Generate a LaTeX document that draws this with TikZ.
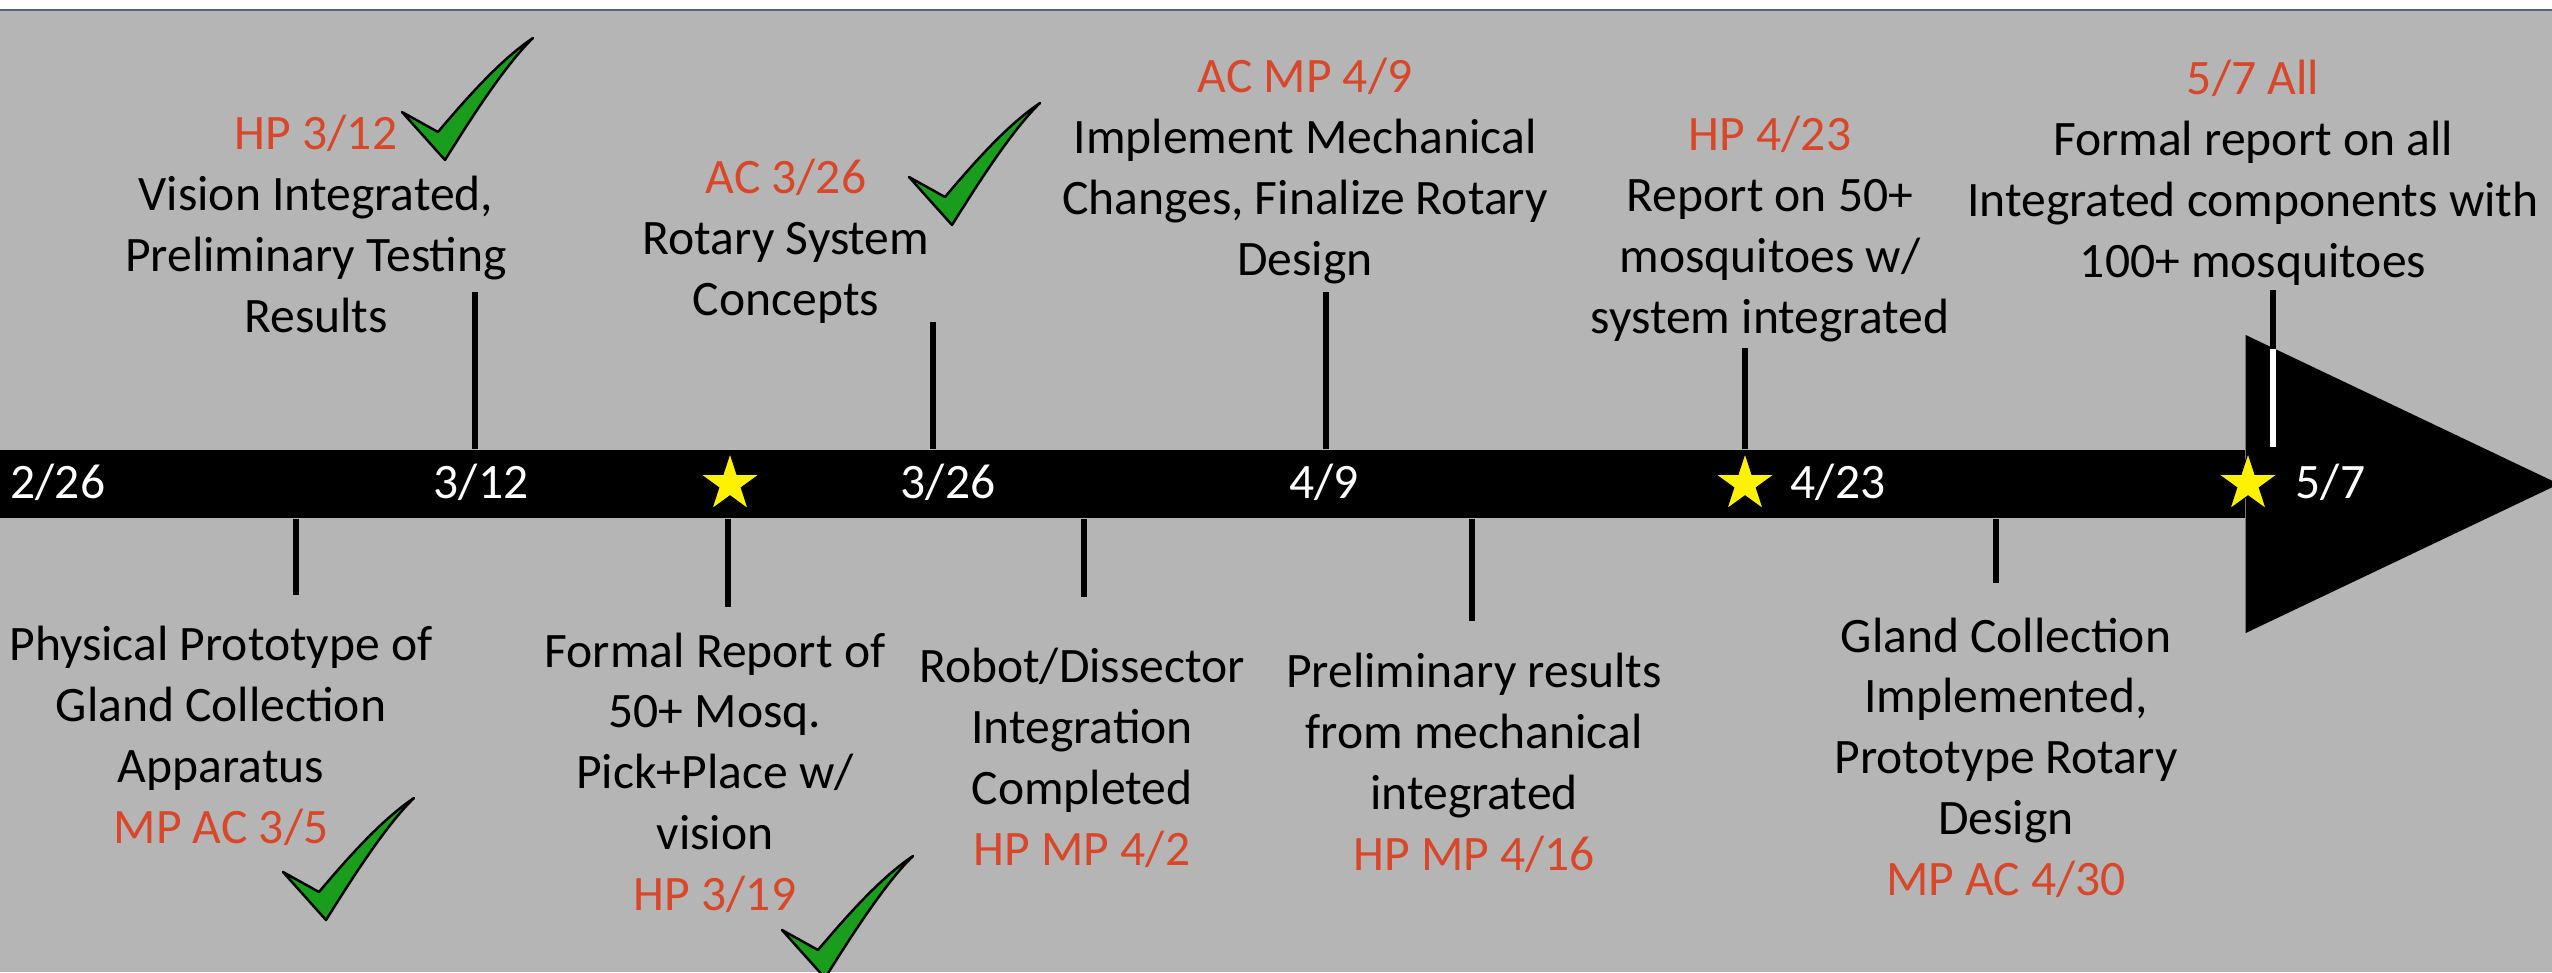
\documentclass[tikz,border=0pt]{standalone}
\usepackage{fontspec}
\setmainfont{Carlito}
\usetikzlibrary{shapes.geometric}

\definecolor{slide}{RGB}{181,181,181}
\definecolor{frame}{RGB}{84,98,120}
\definecolor{who}{RGB}{216,71,41}
\definecolor{done}{RGB}{26,156,28}

\tikzset{
  milestone/.style={font=\fontsize{14.1}{17.27}\selectfont, align=center, inner sep=0pt, anchor=base},
  bardate/.style={font=\fontsize{14.1}{17.27}\selectfont, text=white, inner sep=0pt, anchor=base},
  stem/.style={line width=1.6pt},
  goal/.style={star, star points=5, star point ratio=2.618, minimum size=0.62cm, inner sep=0pt, fill=yellow, draw=black, line width=0.3pt},
  donemark/.pic={
    \filldraw[fill=done, draw=black, line width=0.7pt, line join=round]
      (0,0) .. controls (25,-40) and (60,-95) .. (88,-122)
      .. controls (55,-100) and (20,-60) .. (-7,-28) -- (-43,-48) -- cycle;
  }
}

\begin{document}
\begin{tikzpicture}[x=0.01cm, y=-0.01cm]
\useasboundingbox (0,0) rectangle (2552,972);
\fill[slide] (0,10) rectangle (2552,972);
\draw[frame, line width=0.7pt] (0,10) -- (2552,10);

% time line
\node[fill=black, minimum width=22.53cm, minimum height=0.68cm, inner sep=0pt, anchor=west] (bar) at (-10,484) {};

% stems above the bar
\foreach \n/\x/\y in {312/475/292, 326/933/322, 409/1326/292, 423/1745/348, 507/2273/290}{
	\coordinate (up\n) at (\x,\y);
	\draw[stem] (up\n) -- (up\n |- bar.north);
}
% stems below the bar
\foreach \n/\x/\y in {305/296/595, 319/728/607, 402/1084/597, 416/1472/621, 430/1996/583}{
	\coordinate (dn\n) at (\x,\y);
	\draw[stem] (dn\n |- bar.south) -- (dn\n);
}

% arrow head
\fill (bar.east |- 0,335) -- (2559,484) -- (bar.east |- 0,633) -- cycle;
\draw[stem, white] (up507 |- 0,349) -- (up507 |- 0,447);

\node[goal] (g319) at (730,484) {};
\node[goal] (g423) at (1745,484) {};
\node[goal] (g507) at (2248,484) {};

\node[bardate, anchor=base west] (d226) at (10,498) {2/26};
\node[bardate] (d312) at (481,498) {3/12};
\node[bardate] (d326) at (948,498) {3/26};
\node[bardate] (d409) at (1324,498) {4/9};
\node[bardate, anchor=base west] (d423) at (1790,498) {4/23};
\node[bardate, anchor=base west] (d507) at (2295,498) {5/7};

% milestones (placed at the baseline of their last line)
\node[milestone] (m312) at (316,332) {\textcolor{who}{HP 3/12}\\Vision Integrated,\\Preliminary Testing\\Results};
\node[milestone] (m326) at (786,315) {\textcolor{who}{AC 3/26}\\Rotary System\\Concepts};
\node[milestone] (m409) at (1305,275) {\textcolor{who}{AC MP 4/9}\\Implement Mechanical\\Changes, Finalize Rotary\\Design};
\node[milestone] (m423) at (1770,333) {\textcolor{who}{HP 4/23}\\Report on 50+\\mosquitoes w/\\system integrated};
\node[milestone] (m507) at (2253,277) {\textcolor{who}{5/7 All}\\Formal report on all\\Integrated components with\\100+ mosquitoes};

\node[milestone] (m305) at (221,843) {Physical Prototype of\\Gland Collection\\Apparatus\\\textcolor{who}{MP AC 3/5}};
\node[milestone] (m319) at (715,910) {Formal Report of\\50+ Mosq.\\Pick+Place w/\\vision\\\textcolor{who}{HP 3/19}};
\node[milestone] (m402) at (1082,865) {Robot/Dissector\\Integration\\Completed\\\textcolor{who}{HP MP 4/2}};
\node[milestone] (m416) at (1474,870) {Preliminary results\\from mechanical\\integrated\\\textcolor{who}{HP MP 4/16}};
\node[milestone] (m430) at (2006,895) {Gland Collection\\Implemented,\\Prototype Rotary\\Design\\\textcolor{who}{MP AC 4/30}};

% finished
\pic at (445,160) {donemark};
\pic at (952,225) {donemark};
\pic at (326,920) {donemark};
\pic at (825,978) {donemark};
\end{tikzpicture}
\end{document}
